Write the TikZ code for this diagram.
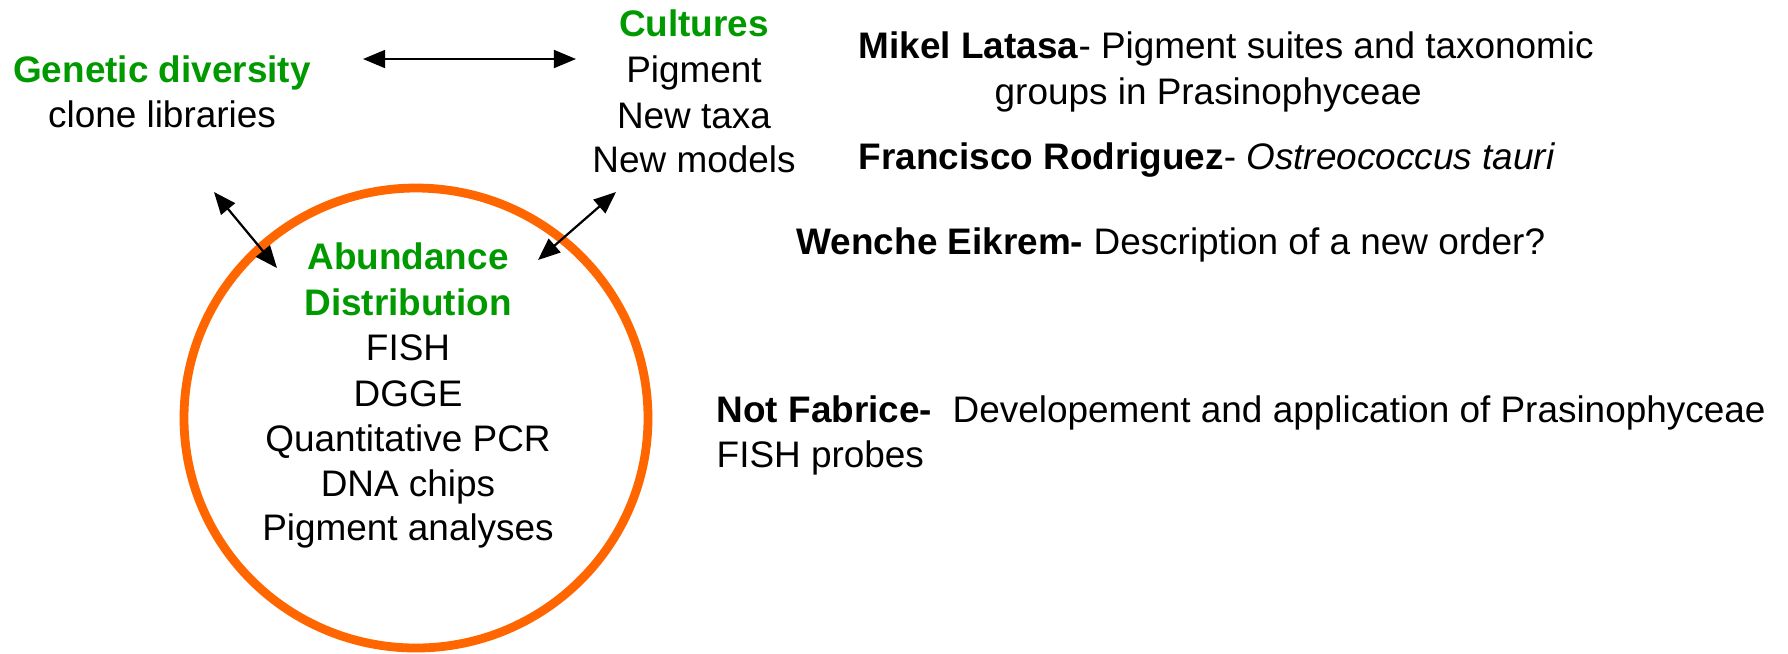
\documentclass[tikz,border=0pt]{standalone}
\usepackage{fontspec}
\setmainfont{Liberation Sans}
\usepackage{xcolor}
\usetikzlibrary{shapes,arrows,arrows.meta,positioning}

\definecolor{headgreen}{RGB}{0,153,0}
\definecolor{ringorange}{RGB}{255,102,0}

\tikzset{
    txt/.style={inner sep=0pt, font=\fontsize{10.5}{13}\selectfont},
    head/.style={txt, text=headgreen, font=\fontsize{10.5}{13}\selectfont\bfseries},
    link/.style={{Triangle[length=6.3pt,width=5.1pt]}-{Triangle[length=6.3pt,width=5.1pt]}, line width=0.63pt}
}

\begin{document}
\begin{tikzpicture}[x=0.01cm,y=-0.01cm]
                \useasboundingbox (0,0) rectangle (1788,653);

                % the ring
                \draw[
                    line width=2.5pt,
                    draw=ringorange
                    ] (416,418) ellipse [x radius=232, y radius=230];

                % left and top groups
                \node[head, anchor=base] (genetic) at (162,82) {Genetic diversity};
                \node[txt, anchor=base] (clone) at (162,127) {clone libraries};

                \node[head, anchor=base] (cultures) at (694,36) {Cultures};
                \node[txt, anchor=base] (pigment) at (694,82) {Pigment};
                \node[txt, anchor=base] (taxa) at (694,128) {New taxa};
                \node[txt, anchor=base] (models) at (694,172) {New models};

                % inside the ring
                \node[head, anchor=base] (abund) at (408,269) {Abundance};
                \node[head, anchor=base] (distr) at (408,315) {Distribution};
                \node[txt, anchor=base] (fish) at (408,360) {FISH};
                \node[txt, anchor=base] (dgge) at (408,406) {DGGE};
                \node[txt, anchor=base] (qpcr) at (408,451) {Quantitative PCR};
                \node[txt, anchor=base] (chips) at (408,496) {DNA chips};
                \node[txt, anchor=base] (pigan) at (408,540) {Pigment analyses};

                % people
                \node[txt, anchor=base west] (latasa) at (858,58) {\textbf{Mikel Latasa}- Pigment suites and taxonomic};
                \node[txt, anchor=base west] (latasb) at (994,104) {groups in Prasinophyceae};
                \node[txt, anchor=base west] (rodri) at (858,169) {\textbf{Francisco Rodriguez}- \textit{Ostreococcus tauri}};
                \node[txt, anchor=base west] (eikrem) at (796,254) {\textbf{Wenche Eikrem-} Description of a new order?};
                \node[txt, anchor=base west] (fabrice) at (716,422) {\textbf{Not Fabrice-}\ \ Developement and application of Prasinophyceae};
                \node[txt, anchor=base west] (probes) at (716,467) {FISH probes};

                % arrow ends
                \coordinate (genR) at (363,59);
                \coordinate (culL) at (576,59);
                \coordinate (genB) at (214,192);
                \coordinate (ringL) at (277,268);
                \coordinate (culB) at (616,192);
                \coordinate (ringR) at (538,260);

                \draw[link] (genR) -- (culL);
                \draw[link] (genB) -- (ringL);
                \draw[link] (culB) -- (ringR);

            \end{tikzpicture}
\end{document}
